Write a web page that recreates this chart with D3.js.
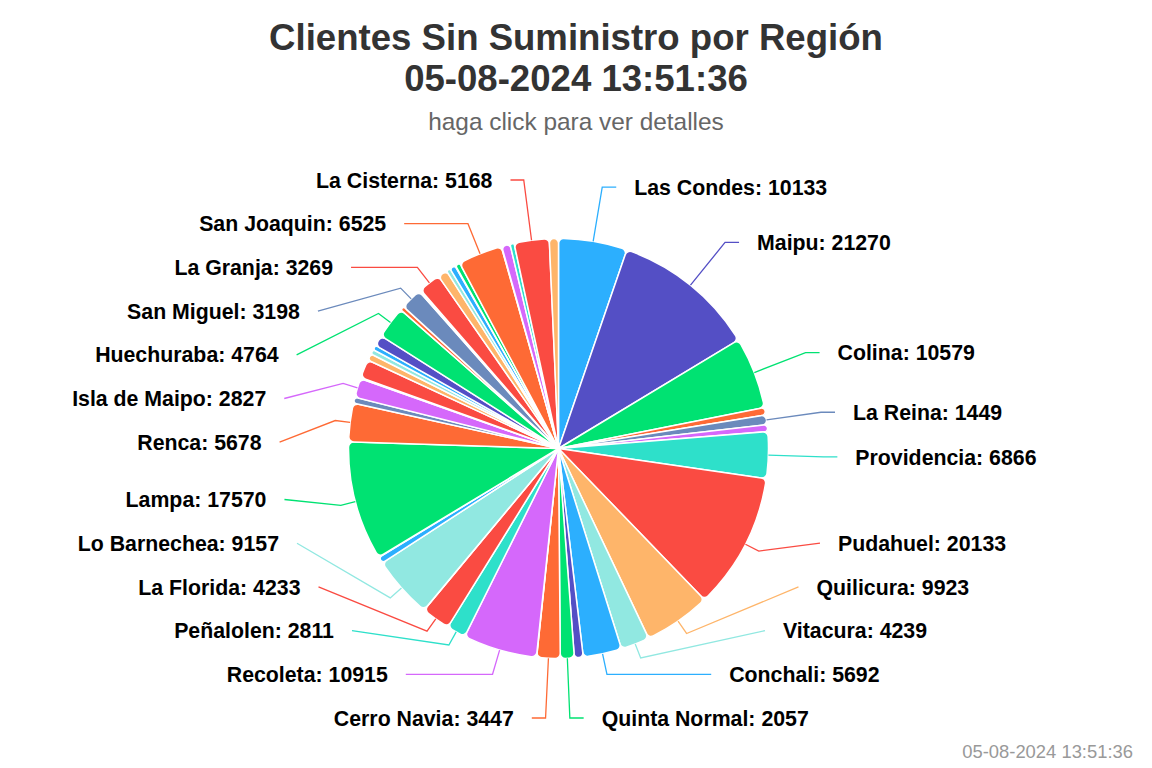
<!DOCTYPE html>
<html>
<head>
<meta charset="utf-8">
<script src="https://cdn.jsdelivr.net/npm/d3@7"></script>
<style>
  html, body { margin: 0; padding: 0; background: #ffffff; }
  svg { display: block; font-family: "Liberation Sans", Arial, Helvetica, sans-serif; }
</style>
</head>
<body>
<svg id="chart" width="1152" height="768"></svg>
<script>
// ---------------- data ----------------
const titleLines = ["Clientes Sin Suministro por Región", "05-08-2024 13:51:36"];
const subtitleText = "haga click para ver detalles";
const creditsText = "05-08-2024 13:51:36";

// Slices in drawing order (clockwise from 12 o'clock). Slices whose label is
// not shown in the reference have an empty name.
const regions = [
  "Las Condes", "Maipu", "Colina", "", "La Reina", "", "Providencia", "Pudahuel",
  "Quilicura", "Vitacura", "Conchali", "", "Quinta Normal", "Cerro Navia", "",
  "Recoleta", "Peñalolen", "La Florida", "", "Lo Barnechea", "", "", "Lampa",
  "Renca", "", "Isla de Maipo", "", "", "", "", "", "", "Huechuraba", "",
  "San Miguel", "", "", "La Granja", "", "", "", "", "", "San Joaquin", "", "",
  "", "La Cisterna", ""
];
const clients = [
  10133, 21270, 10579, 1100, 1449, 1000, 6866, 20133,
  9923, 4239, 5692, 1300, 2057, 3447, 40,
  10915, 2811, 4233, 45, 9157, 950, 60, 17570,
  5678, 900, 2827, 150, 2750, 1000, 700, 700, 1600, 4764, 600,
  3198, 150, 150, 3269, 1400, 600, 850, 80, 700, 6525, 70, 1250,
  600, 5168, 1350
];
const palette = ["#2caffe", "#544fc5", "#00e272", "#fe6a35", "#6b8abc",
                 "#d568fb", "#2ee0ca", "#fa4b42", "#feb56a", "#91e8e1"];

// ---------------- layout ----------------
const W = 1152, H = 768;
const cx = 558.5, cy = 448.5, r = 210;
const labelDistance = 55;
const R = r + labelDistance;
const slot = 43.7;
const minC = 180, maxC = 718;
const labelFont = 21.3;

const svg = d3.select("#chart");

// Titles
svg.append("text")
  .attr("x", 576).attr("y", 50)
  .attr("text-anchor", "middle")
  .attr("font-size", "36.6px").attr("font-weight", "bold").attr("fill", "#333333")
  .text(titleLines[0]);
svg.append("text")
  .attr("x", 576).attr("y", 90.7)
  .attr("text-anchor", "middle")
  .attr("font-size", "36.6px").attr("font-weight", "bold").attr("fill", "#333333")
  .text(titleLines[1]);
svg.append("text")
  .attr("x", 576).attr("y", 129.5)
  .attr("text-anchor", "middle")
  .attr("font-size", "24.4px").attr("fill", "#666666")
  .text(subtitleText);
svg.append("text")
  .attr("x", 1133).attr("y", 758)
  .attr("text-anchor", "end")
  .attr("font-size", "18.4px").attr("fill", "#999999")
  .text(creditsText);

// ---------------- pie ----------------
const data = regions.map((name, i) => ({ name, value: clients[i], i }));
const color = d3.scaleOrdinal().domain(d3.range(data.length)).range(palette);
const pie = d3.pie().sort(null).value(d => d.value).startAngle(0).endAngle(2 * Math.PI);
const arcs = pie(data);
const arcGen = d3.arc().innerRadius(0).outerRadius(r).cornerRadius(5);

const g = svg.append("g").attr("transform", `translate(${cx},${cy})`);
g.selectAll("path.slice")
  .data(arcs)
  .join("path")
  .attr("class", "slice")
  .attr("d", arcGen)
  .attr("fill", d => color(d.data.i))
  .attr("stroke", "#ffffff")
  .attr("stroke-width", 1.5)
  .attr("stroke-linejoin", "round");

// ---------------- labels ----------------
const labeled = arcs.filter(a => a.data.name).map(a => {
  const th = (a.startAngle + a.endAngle) / 2;
  return {
    a, th,
    right: th < Math.PI,
    ny: cy - R * Math.cos(th)
  };
});

function distribute(items) {
  items.sort((p, q) => p.ny - q.ny);
  const base = minC - slot / 2;
  const len = (maxC - minC) + slot;
  let boxes = items.map(it => ({ targets: [it.ny], size: slot, items: [it], pos: 0 }));
  let overlapping = true, guard = 0;
  while (overlapping && guard++ < 200) {
    boxes.forEach(b => {
      const t = (Math.min(...b.targets) + Math.max(...b.targets)) / 2;
      b.pos = Math.max(0, Math.min(len - b.size, t - base - b.size / 2));
    });
    overlapping = false;
    for (let i = boxes.length - 1; i > 0; i--) {
      if (boxes[i - 1].pos + boxes[i - 1].size > boxes[i].pos + 1e-6) {
        boxes[i - 1].size += boxes[i].size;
        boxes[i - 1].targets = boxes[i - 1].targets.concat(boxes[i].targets);
        boxes[i - 1].items = boxes[i - 1].items.concat(boxes[i].items);
        boxes.splice(i, 1);
        overlapping = true;
      }
    }
  }
  boxes.forEach(b => b.items.forEach((it, k) => {
    it.y = base + b.pos + slot * k + slot / 2;
  }));
}
distribute(labeled.filter(d => d.right));
distribute(labeled.filter(d => !d.right));

labeled.forEach(d => {
  const useY = (d.y <= minC + 2 || d.y >= maxC - 2) ? d.ny : d.y;
  const dx = Math.sqrt(Math.max(0, R * R - (useY - cy) * (useY - cy)));
  const s = d.right ? 1 : -1;
  d.textX = cx + s * (dx + 32);
  d.anchorX = cx + s * (dx + 14);
  const ux = Math.sin(d.th), uy = -Math.cos(d.th);
  const touch = [cx + r * ux, cy + r * uy];
  const pts = [touch];
  let crook = null;
  if (Math.abs(uy) > 1e-6) {
    const t = (d.y - cy) / uy;
    if (t >= r + 10) {
      const x = cx + t * ux;
      if ((x - cx) * s <= (d.anchorX - cx) * s) crook = [x, d.y];
    }
  }
  if (crook) pts.push(crook);
  else pts.push([cx + (r + 15) * ux, cy + (r + 15) * uy]);
  pts.push([d.anchorX, d.y]);
  d.pts = pts;
});

const line = d3.line();
svg.append("g").selectAll("path.conn")
  .data(labeled)
  .join("path")
  .attr("class", "conn")
  .attr("d", d => line(d.pts))
  .attr("fill", "none")
  .attr("stroke", d => color(d.a.data.i))
  .attr("stroke-width", 1.3);

svg.append("g").selectAll("text.lbl")
  .data(labeled)
  .join("text")
  .attr("class", "lbl")
  .attr("x", d => d.textX)
  .attr("y", d => d.y + labelFont * 0.36)
  .attr("text-anchor", d => d.right ? "start" : "end")
  .attr("font-size", labelFont + "px")
  .attr("font-weight", "bold")
  .attr("fill", "#000000")
  .attr("stroke", "#ffffff")
  .attr("stroke-width", 2)
  .attr("paint-order", "stroke")
  .attr("stroke-linejoin", "round")
  .text(d => `${d.a.data.name}: ${d.a.data.value}`);
</script>
</body>
</html>
